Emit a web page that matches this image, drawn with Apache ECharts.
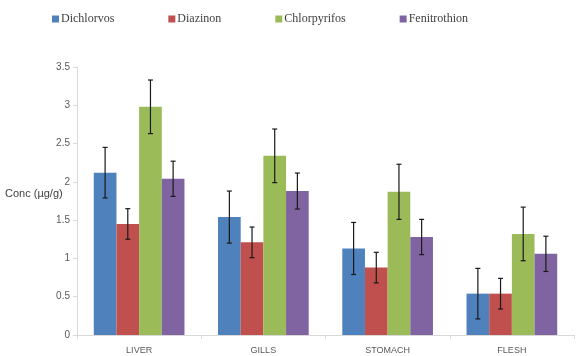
<!DOCTYPE html>
<html>
<head>
<meta charset="utf-8">
<script src="https://cdn.jsdelivr.net/npm/echarts@6/dist/echarts.min.js"></script>
<style>
  html, body { margin: 0; padding: 0; background: #ffffff; }
  #chart { width: 585px; height: 356px; }
</style>
</head>
<body>
<div id="chart"></div>
<script>
// ---- Data ----
const categories = ['LIVER', 'GILLS', 'STOMACH', 'FLESH'];
const seriesNames = ['Dichlorvos', 'Diazinon', 'Chlorpyrifos', 'Fenitrothion'];
const dichlorvos   = [2.12, 1.54, 1.13, 0.54];
const diazinon     = [1.45, 1.21, 0.88, 0.54];
const chlorpyrifos = [2.98, 2.34, 1.87, 1.32];
const fenitrothion = [2.04, 1.88, 1.28, 1.06];
const dichlorvosErr   = [0.33, 0.34, 0.34, 0.33];
const diazinonErr     = [0.20, 0.20, 0.20, 0.20];
const chlorpyrifosErr = [0.35, 0.35, 0.36, 0.35];
const fenitrothionErr = [0.23, 0.235, 0.23, 0.23];
const yTicks = [0, 0.5, 1, 1.5, 2, 2.5, 3, 3.5];

const values = [dichlorvos, diazinon, chlorpyrifos, fenitrothion];
const errors = [dichlorvosErr, diazinonErr, chlorpyrifosErr, fenitrothionErr];
const colors = ['#4f81bd', '#c0504d', '#9bbb59', '#8064a2'];
const GAP = 0.27;

const chart = echarts.init(document.getElementById('chart'));

const series = [];
values.forEach((vals, i) => {
  series.push({
    name: seriesNames[i],
    type: 'bar',
    data: vals,
    barGap: '0%',
    barCategoryGap: (GAP * 100) + '%',
    itemStyle: { color: colors[i] },
    emphasis: { disabled: true }
  });
});
values.forEach((vals, i) => {
  const errData = vals.map((v, k) => [k, v - errors[i][k], v + errors[i][k]]);
  series.push({
    type: 'custom',
    name: seriesNames[i] + ' err',
    z: 10,
    silent: true,
    data: errData,
    renderItem: function (params, api) {
      const k = api.value(0);
      const lo = api.coord([k, api.value(1)]);
      const hi = api.coord([k, api.value(2)]);
      const band = api.size([1, 0])[0];
      const bw = band * (1 - GAP) / 4;
      const x = lo[0] + (-1.5 + i) * bw;
      const cap = 2.5;
      const style = { stroke: '#1a1a1a', lineWidth: 1.2 };
      return {
        type: 'group',
        children: [
          { type: 'line', shape: { x1: x, y1: hi[1], x2: x, y2: lo[1] }, style: style },
          { type: 'line', shape: { x1: x - cap, y1: hi[1], x2: x + cap, y2: hi[1] }, style: style },
          { type: 'line', shape: { x1: x - cap, y1: lo[1], x2: x + cap, y2: lo[1] }, style: style }
        ]
      };
    }
  });
});

chart.setOption({
  animation: false,
  backgroundColor: '#ffffff',
  legend: {
    data: seriesNames,
    left: 47,
    top: 8,
    itemWidth: 7,
    itemHeight: 7,
    itemGap: 54,
    icon: 'rect',
    textStyle: { fontFamily: 'Liberation Serif', fontSize: 12, color: '#404040', padding: [0, 0, 0, -3] }
  },
  grid: { left: 77, right: 11, top: 67, bottom: 21, containLabel: false },
  xAxis: {
    type: 'category',
    data: categories,
    axisLine: { lineStyle: { color: '#d9d9d9' } },
    axisTick: { show: true, length: 4, lineStyle: { color: '#d9d9d9' } },
    axisLabel: { fontFamily: 'Liberation Sans', fontSize: 9, color: '#595959', margin: 11 }
  },
  yAxis: {
    type: 'value',
    min: yTicks[0],
    max: yTicks[yTicks.length - 1],
    interval: 0.5,
    splitLine: { show: false },
    axisLine: { show: true, lineStyle: { color: '#d9d9d9' } },
    axisTick: { show: true, length: 4, lineStyle: { color: '#d9d9d9' } },
    axisLabel: { fontFamily: 'Liberation Sans', fontSize: 10, color: '#595959', margin: 7 }
  },
  graphic: [{
    type: 'text',
    left: 5,
    top: 188,
    style: { text: 'Conc (µg/g)', fontFamily: 'Liberation Sans', fontSize: 11, fill: '#404040' }
  }],
  series: series
});
</script>
</body>
</html>
